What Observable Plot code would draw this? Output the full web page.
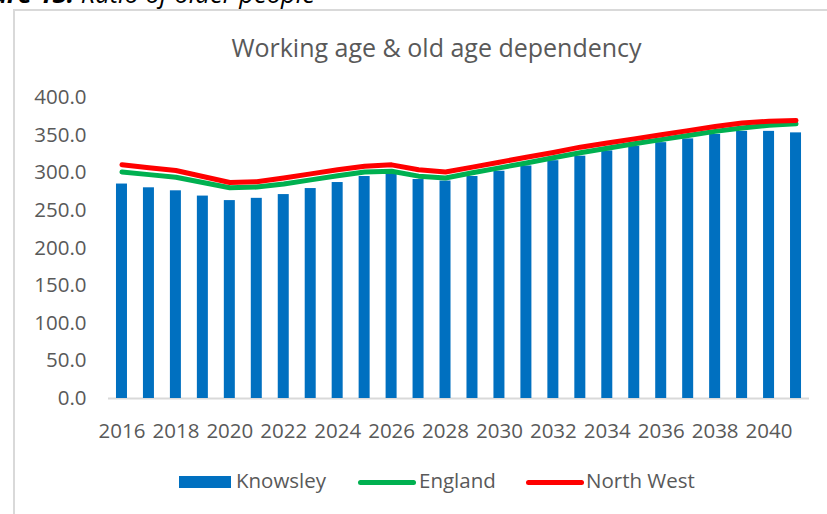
<!DOCTYPE html>
<html>
<head>
<meta charset="utf-8">
<script src="https://cdn.jsdelivr.net/npm/d3@7"></script>
<script src="https://cdn.jsdelivr.net/npm/@observablehq/plot@0.6"></script>
<style>
  html, body { margin: 0; padding: 0; background: #fff; }
  #page { position: relative; width: 827px; height: 514px; overflow: hidden; font-family: "Open Sans", sans-serif; }
  #caption { position: absolute; right: 512px; top: -19px; font-size: 25.5px; line-height: 25px; white-space: nowrap; color: #000; font-style: italic; }
  #caption b { font-weight: 700; }
  #box { position: absolute; left: 13px; top: 9px; width: 900px; height: 600px; border: 2px solid #d9d9d9; box-sizing: border-box; z-index: 3; pointer-events: none; }
  #title { position: absolute; left: 0; width: 873px; text-align: center; top: 35px; font-size: 25px; line-height: 25px; color: #595959; white-space: nowrap; }
  #chart { position: absolute; left: 0; top: 0; }
  .sw { position: absolute; }
  .lt { position: absolute; top: 470px; font-size: 20.5px; line-height: 20px; color: #595959; white-space: nowrap; }
</style>
</head>
<body>
<div id="page">
  <div id="caption"><b>Figure 13:</b> Ratio of older people</div>
  <div id="chart"></div>
  <div id="title">Working age &amp; old age dependency</div>
  <div id="legend"></div>
  <div id="box"></div>
</div>
<script>
// ---- data ----
const years = [2016, 2017, 2018, 2019, 2020, 2021, 2022, 2023, 2024, 2025, 2026, 2027, 2028,
               2029, 2030, 2031, 2032, 2033, 2034, 2035, 2036, 2037, 2038, 2039, 2040, 2041];
const knowsley = [285, 280, 276, 269, 263, 266, 271, 279, 287, 295, 298, 291, 289,
                  295, 302, 309, 316, 322, 329, 335, 340, 345, 351, 355, 355, 353];
const england = [301, 297.5, 294, 287, 280, 281, 285, 290.5, 296, 301, 302, 295.5, 293,
                 300, 306.5, 313, 320, 326.5, 332.5, 338.5, 344, 349.5, 355, 359.5, 363, 365];
const northWest = [310.5, 306.5, 303, 295, 287, 288, 293, 298.5, 304, 308.5, 310.5, 304, 301,
                   307.5, 314, 320.5, 327, 334, 339.5, 345, 350.5, 356, 361.5, 366, 368.5, 369.5];
const xTickLabels = [2016, 2018, 2020, 2022, 2024, 2026, 2028, 2030, 2032, 2034, 2036, 2038, 2040];
const yTickValues = [0, 50, 100, 150, 200, 250, 300, 350, 400];
const seriesNames = ["Knowsley", "England", "North West"];
const seriesColors = ["#0070C0", "#00B050", "#FF0000"];

const rows = years.map((year, i) => ({year, knowsley: knowsley[i], england: england[i], northWest: northWest[i]}));

const chart = Plot.plot({
  width: 827,
  height: 460,
  marginLeft: 108,
  marginRight: 18,
  marginTop: 97,
  marginBottom: 62,
  style: {fontFamily: "Open Sans", fontSize: "20.5px", color: "#595959", background: "transparent"},
  x: {type: "band", domain: years, paddingInner: 0.592, paddingOuter: 0.296, round: false, label: null},
  y: {domain: [0, 400], label: null},
  marks: [
    Plot.axisX({ticks: xTickLabels, tickSize: 0, tickPadding: 25, tickFormat: d => String(d), label: null}),
    Plot.axisY({ticks: yTickValues, tickSize: 0, tickPadding: 22, tickFormat: d3.format(".1f"), label: null}),
    Plot.ruleY([0], {stroke: "#d9d9d9", strokeWidth: 2}),
    Plot.barY(rows, {x: "year", y: "knowsley", fill: seriesColors[0]}),
    Plot.line(rows, {x: "year", y: "england", stroke: seriesColors[1], strokeWidth: 5, strokeLinecap: "round", strokeLinejoin: "round"}),
    Plot.line(rows, {x: "year", y: "northWest", stroke: seriesColors[2], strokeWidth: 5, strokeLinecap: "round", strokeLinejoin: "round"})
  ]
});
document.getElementById("chart").append(chart);

// ---- legend ----
const legend = document.getElementById("legend");
const swatches = [
  {left: 179, top: 476, width: 52, height: 12, radius: 0, textLeft: 236},
  {left: 358, top: 480, width: 58, height: 5, radius: 2.5, textLeft: 419},
  {left: 526, top: 480, width: 58, height: 5, radius: 2.5, textLeft: 586}
];
seriesNames.forEach((name, i) => {
  const s = swatches[i];
  const sw = document.createElement("div");
  sw.className = "sw";
  Object.assign(sw.style, {left: s.left + "px", top: s.top + "px", width: s.width + "px", height: s.height + "px",
    background: seriesColors[i], borderRadius: s.radius + "px"});
  legend.append(sw);
  const t = document.createElement("div");
  t.className = "lt";
  t.style.left = s.textLeft + "px";
  t.textContent = name;
  legend.append(t);
});
</script>
</body>
</html>
